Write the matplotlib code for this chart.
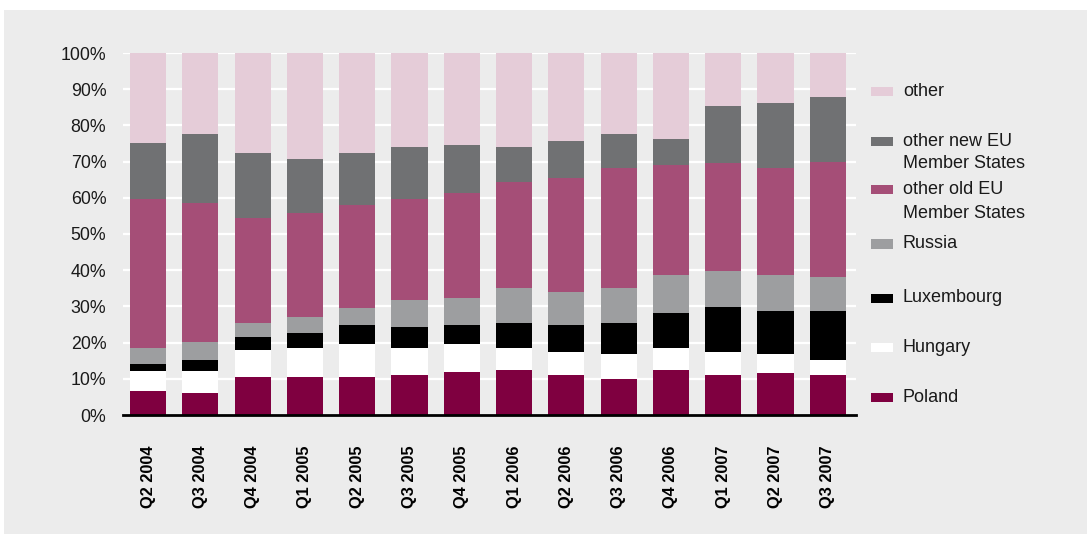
import matplotlib

matplotlib.use("Agg")
import matplotlib.pyplot as plt
import numpy as np
from matplotlib.patches import Rectangle

quarters = ["Q2 2004", "Q3 2004", "Q4 2004", "Q1 2005", "Q2 2005", "Q3 2005",
            "Q4 2005", "Q1 2006", "Q2 2006", "Q3 2006", "Q4 2006", "Q1 2007",
            "Q2 2007", "Q3 2007"]

# shares in % (bottom to top of each bar)
poland = [6.6, 6.1, 10.5, 10.5, 10.5, 11.1, 11.9, 12.4, 11.1, 10.0, 12.4, 11.1, 11.6, 11.1]
hungary = [5.6, 6.1, 7.5, 8.0, 9.1, 7.4, 7.7, 6.1, 6.3, 6.9, 6.1, 6.3, 5.3, 4.1]
luxembourg = [1.9, 3.0, 3.6, 4.2, 5.3, 5.8, 5.3, 6.9, 7.5, 8.5, 9.7, 12.5, 11.9, 13.6]
russia = [4.4, 5.0, 3.8, 4.4, 4.7, 7.5, 7.5, 9.7, 9.1, 9.7, 10.5, 9.9, 9.9, 9.4]
old_eu = [41.1, 38.4, 29.1, 28.8, 28.4, 27.8, 28.9, 29.3, 31.5, 33.2, 30.4, 29.9, 29.6, 31.8]
new_eu = [15.6, 19.1, 17.9, 14.9, 14.4, 14.5, 13.4, 9.7, 10.3, 9.4, 7.2, 15.7, 18.0, 17.9]
other = [24.8, 22.3, 27.6, 29.2, 27.6, 25.9, 25.3, 25.9, 24.2, 22.3, 23.7, 14.6, 13.7, 12.1]

series = [
    ("Poland", poland, "#7f0040"),
    ("Hungary", hungary, "#ffffff"),
    ("Luxembourg", luxembourg, "#000000"),
    ("Russia", russia, "#9d9ea0"),
    ("other old EU\nMember States", old_eu, "#a54e77"),
    ("other new EU\nMember States", new_eu, "#707173"),
    ("other", other, "#e5ccd8"),
]

BG = "#ececec"
INK = "#1a1a1a"
W, H = 1087, 534

plt.rcParams["font.family"] = ["Liberation Sans", "DejaVu Sans"]

fig = plt.figure(figsize=(W / 100, H / 100), dpi=100, facecolor="white")
fig.patches.append(Rectangle((4 / W, 0), 1, 1 - 10 / H, transform=fig.transFigure,
                             facecolor=BG, edgecolor="none", zorder=-10))

ax = fig.add_axes([123 / W, 119 / H, (856 - 123) / W, (415 - 53) / H])
ax.set_facecolor(BG)

x = np.arange(len(quarters))
bottom = np.zeros(len(quarters))
for name, vals, col in series:
    ax.bar(x, vals, 0.69, bottom=bottom, color=col, edgecolor="none", zorder=3)
    bottom += np.array(vals)

ax.set_xlim(-0.48, len(quarters) - 1 + 0.54)
ax.set_ylim(0, 100)
ax.set_yticks(np.arange(0, 101, 10))
ax.set_yticklabels([f"{v}%" for v in range(0, 101, 10)], fontsize=12.8, color=INK)
ax.set_xticks(x)
ax.set_xticklabels(quarters, rotation=90, fontsize=11.8, fontweight="bold")
ax.tick_params(axis="y", length=0, pad=12)
ax.tick_params(axis="x", length=0, pad=22)
ax.grid(axis="y", color="white", linewidth=1.6, zorder=0)
ax.set_axisbelow(True)
for s in ["top", "right", "left"]:
    ax.spines[s].set_visible(False)
ax.spines["bottom"].set_color("black")
ax.spines["bottom"].set_linewidth(2)
ax.spines["bottom"].set_zorder(5)

# legend drawn by hand to match the uneven spacing
leg_y = [397, 347, 298, 244, 190, 141, 92]
for (name, _, col), yy in zip(series, leg_y):
    fig.patches.append(Rectangle((871 / W, 1 - (yy + 4.5) / H), 22 / W, 9 / H,
                                 transform=fig.transFigure, facecolor=col,
                                 edgecolor="none"))
    for i, line in enumerate(name.split("\n")):
        fig.text(903 / W, 1 - (yy + 23 * i) / H, line, fontsize=13,
                 color=INK, va="center", ha="left")

fig.savefig("out.png", dpi=100, facecolor="white")
